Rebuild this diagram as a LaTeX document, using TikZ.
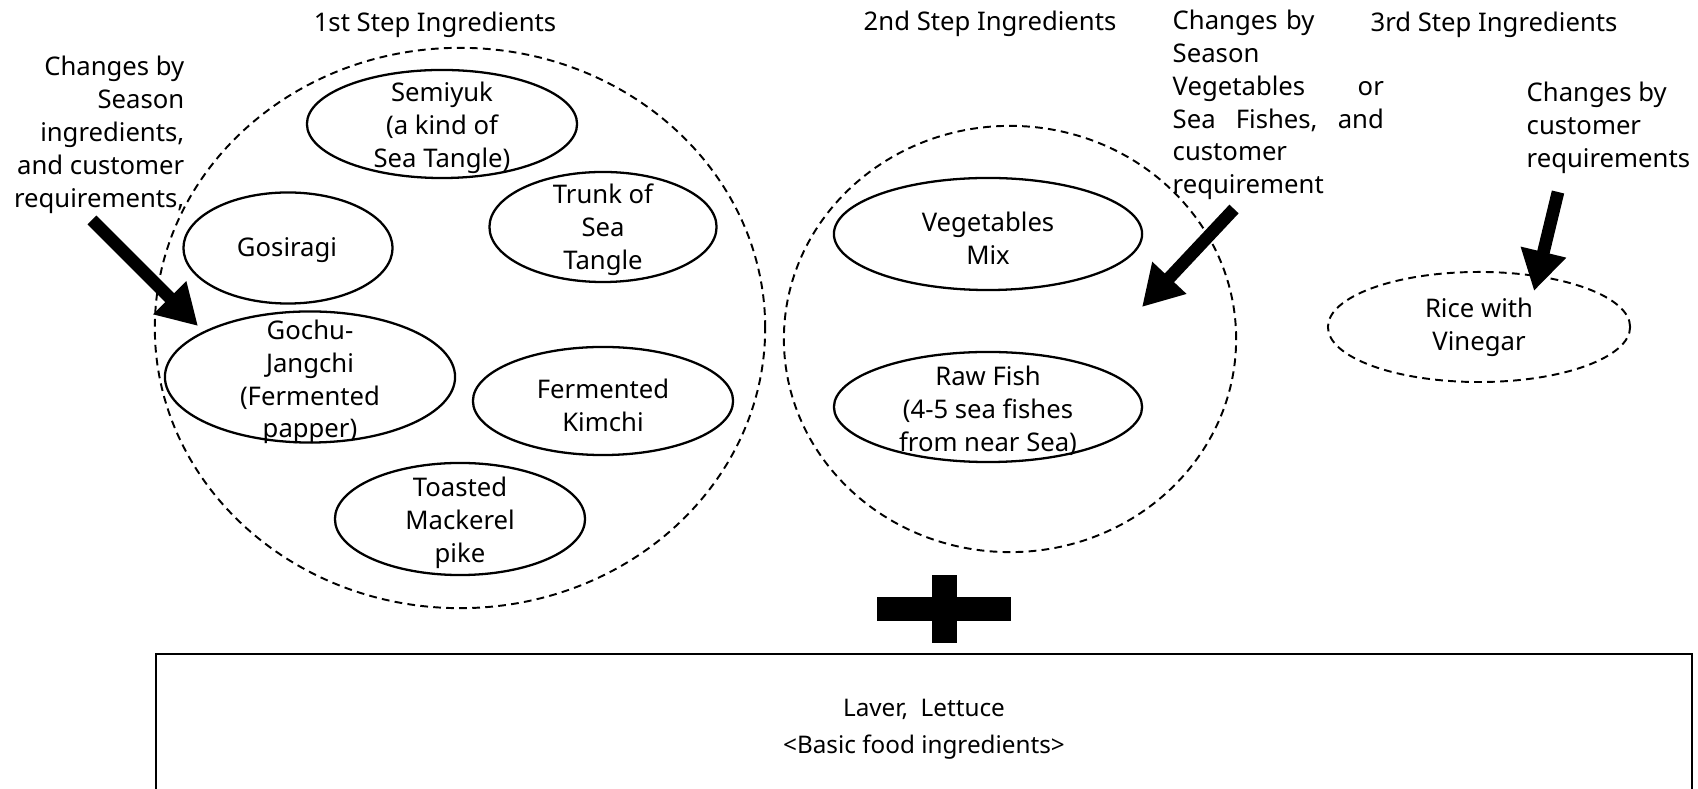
\documentclass[tikz,border=0pt]{standalone}
\usepackage{fontspec}
\setmainfont{Noto Sans}
\usetikzlibrary{shapes.geometric,arrows.meta}
\begin{document}
\begin{tikzpicture}[x=0.01cm,y=-0.01cm,
  every node/.style={font=\fontsize{7.3}{9.35}\selectfont, inner sep=0pt},
  item/.style={ellipse, draw, line width=0.65pt},
  group/.style={ellipse, draw, line width=0.55pt, dash pattern=on 2.2pt off 1.5pt},
  txt/.style={align=center},
  bigarrow/.style={line width=3.6pt, -{Triangle[length=0.40cm,width=0.44cm]}},
  plusbar/.style={fill=black, draw=none}
]
\useasboundingbox (0,0) rectangle (1698,789);

% ---- step groups (dashed outlines) ----
\node[group, minimum width=6.10cm, minimum height=5.60cm] (g1) at (460,328) {};
\node[group, minimum width=4.52cm, minimum height=4.26cm] (g2) at (1010,339) {};
\node[group, minimum width=3.02cm, minimum height=1.10cm] (rice) at (1479,327) {};
\node[txt] (rice-t) at (rice.center) {Rice with\\Vinegar};

% ---- 1st step ingredients ----
\node[item, minimum width=2.70cm, minimum height=1.08cm] (semiyuk) at (442,124) {};
\node[txt] (semiyuk-t) at (442,128) {Semiyuk\\(a kind of\\Sea Tangle)};
\node[item, minimum width=2.27cm, minimum height=1.10cm] (trunk) at (603,227) {};
\node[txt] (trunk-t) at (603,230) {Trunk of\\Sea\\Tangle};
\node[item, minimum width=2.09cm, minimum height=1.11cm] (gosiragi) at (288,248) {};
\node[txt] (gosiragi-t) at (287,250) {Gosiragi};
\node[item, minimum width=2.90cm, minimum height=1.31cm] (gochu) at (310,377) {};
\node[txt] (gochu-t) at (310,382) {Gochu-\\Jangchi\\(Fermented\\papper)};
\node[item, minimum width=2.60cm, minimum height=1.08cm] (kimchi) at (603,401) {};
\node[txt] (kimchi-t) at (603,405) {Fermented\\Kimchi};
\node[item, minimum width=2.50cm, minimum height=1.12cm] (mackerel) at (460,519) {};
\node[txt] (mackerel-t) at (460,523) {Toasted\\Mackerel\\pike};

% ---- 2nd step ingredients ----
\node[item, minimum width=3.08cm, minimum height=1.12cm] (veg) at (988,234) {};
\node[txt] (veg-t) at (988,238) {Vegetables\\Mix};
\node[item, minimum width=3.08cm, minimum height=1.10cm] (fish) at (988,407) {};
\node[txt] (fish-t) at (988,411) {Raw Fish\\(4-5 sea fishes\\from near Sea)};

% ---- side notes ----
\node[align=right, anchor=east] (n1) at (185,135)
  {Changes by\\Season\\ingredients,\\and customer\\requirements,};
\node[anchor=west, text width=2.11cm, align=left] (n2) at (1172,105)
  {Changes by\\Season\\Vegetables\hfill or\\Sea\hfill Fishes,\hfill and\\customer\\requirement};
\node[align=left, anchor=west] (n3) at (1526,128)
  {Changes by\\customer\\requirements};

% ---- headings ----
\node[txt] (t1) at (435,25) {1st Step Ingredients};
\node[txt] (t2) at (990,24) {2nd Step Ingredients};
\node[txt] (t3) at (1494,25) {3rd Step Ingredients};

% ---- arrows from the notes ----
\coordinate (a1s) at (92,220);
\coordinate (a1e) at (198,326);
\coordinate (a2s) at (1234,209);
\coordinate (a2e) at (1142,307);
\coordinate (a3s) at (1558,192);
\coordinate (a3e) at (1534,291);
\draw[bigarrow] (a1s) -- (a1e);
\draw[bigarrow] (a2s) -- (a2e);
\draw[bigarrow] (a3s) -- (a3e);

% ---- plus sign ----
\fill[plusbar] (877,597) rectangle (1011,621);
\fill[plusbar] (932,575) rectangle (957,643);

% ---- base ingredients ----
\node[draw, line width=0.6pt, minimum width=15.35cm, minimum height=1.37cm, anchor=north west] (base) at (155,653) {};
\node[txt, font=\fontsize{6.9}{10.4}\selectfont] (base-t) at (924,729)
  {Laver,\ \ Lettuce\\<Basic food ingredients>};
\end{tikzpicture}
\end{document}
